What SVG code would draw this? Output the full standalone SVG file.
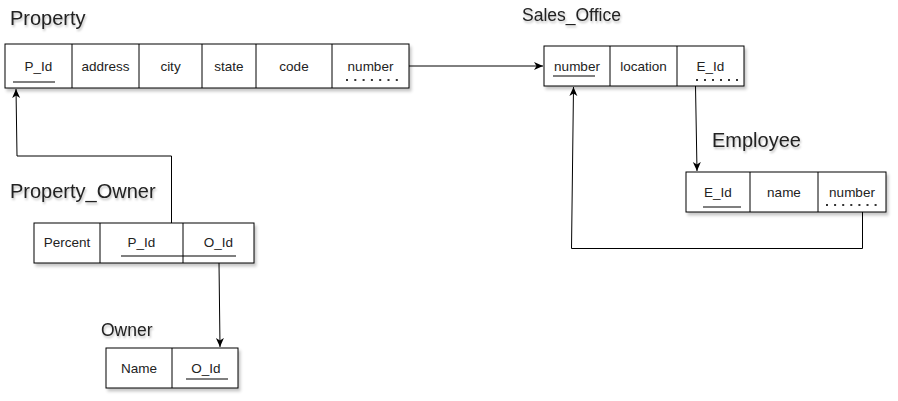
<svg xmlns="http://www.w3.org/2000/svg" width="898" height="401" viewBox="0 0 898 401">
<defs>
<filter id="sh" x="-10%" y="-20%" width="130%" height="160%">
<feDropShadow dx="2" dy="3" stdDeviation="1.5" flood-color="#000" flood-opacity="0.22"/>
</filter>
<filter id="tsh" x="-10%" y="-30%" width="130%" height="180%">
<feDropShadow dx="1" dy="2" stdDeviation="1" flood-color="#000" flood-opacity="0.25"/>
</filter>
<marker id="arr" markerWidth="10" markerHeight="10" refX="9" refY="5" orient="auto" markerUnits="userSpaceOnUse">
<path d="M0,1 L9,5 L0,9 L2.5,5 z" fill="#000"/>
</marker>
</defs>
<style>
.box{fill:#fff;stroke:#000;stroke-width:1}
.div{stroke:#000;stroke-width:1}
.cell{font-family:"Liberation Sans",Arial,sans-serif;font-size:13.5px;fill:#222;text-anchor:middle}
.title{font-family:"Liberation Sans",Arial,sans-serif;font-size:20px;fill:#222}
.ul{stroke:#000;stroke-width:1.2}
.dot{stroke:#333;stroke-width:2;stroke-dasharray:2 6.3}
.con{fill:none;stroke:#000;stroke-width:1}
</style>
<rect width="898" height="401" fill="#fff"/>

<g id="connectors">
<path class="con" d="M409,66 L543,66" marker-end="url(#arr)"/>
<path class="con" d="M695.5,86 L697,171" marker-end="url(#arr)"/>
<path class="con" d="M862.5,212 L862.5,248.5 L571.5,248.5 L573.5,87" marker-end="url(#arr)"/>
<path class="con" d="M171.5,223 L171.5,156 L17,156 L16,89" marker-end="url(#arr)"/>
<path class="con" d="M219,263 L220,347" marker-end="url(#arr)"/>
</g>

<g id="property">
<text class="title" x="10" y="25" filter="url(#tsh)">Property</text>
<rect class="box" x="5" y="44" width="404" height="44" filter="url(#sh)"/>
<path class="div" d="M72,44V88 M139,44V88 M202,44V88 M256,44V88 M332,44V88"/>
<text class="cell" x="38.5" y="71">P_Id</text>
<line class="ul" x1="13" y1="82" x2="55" y2="82"/>
<text class="cell" x="105.5" y="71">address</text>
<text class="cell" x="170.5" y="71">city</text>
<text class="cell" x="229" y="71">state</text>
<text class="cell" x="294" y="71">code</text>
<text class="cell" x="370.5" y="71">number</text>
<line class="dot" x1="346" y1="80" x2="398" y2="80"/>
</g>

<g id="sales_office">
<text class="title" x="522" y="21" style="font-size:17.5px" filter="url(#tsh)">Sales_Office</text>
<rect class="box" x="544" y="46" width="200" height="40" filter="url(#sh)"/>
<path class="div" d="M610,46V86 M677,46V86"/>
<text class="cell" x="577" y="71">number</text>
<line class="ul" x1="553" y1="76" x2="595" y2="76"/>
<text class="cell" x="643.5" y="71">location</text>
<text class="cell" x="710.5" y="71">E_Id</text>
<line class="dot" x1="696" y1="80" x2="738" y2="80" style="stroke-dasharray:2 6"/>
</g>

<g id="employee">
<text class="title" x="712" y="147" filter="url(#tsh)">Employee</text>
<rect class="box" x="686" y="172" width="200" height="40" filter="url(#sh)"/>
<path class="div" d="M750,172V212 M818,172V212"/>
<text class="cell" x="718" y="197">E_Id</text>
<line class="ul" x1="703" y1="207" x2="741" y2="207"/>
<text class="cell" x="784" y="197">name</text>
<text class="cell" x="852" y="197">number</text>
<line class="dot" x1="826" y1="205" x2="878" y2="205" style="stroke-dasharray:2 6.1"/>
</g>

<g id="property_owner">
<text class="title" x="10" y="198" filter="url(#tsh)">Property_Owner</text>
<rect class="box" x="34" y="223" width="220" height="40" filter="url(#sh)"/>
<path class="div" d="M100,223V263 M183,223V263"/>
<text class="cell" x="67" y="247">Percent</text>
<text class="cell" x="141.5" y="247">P_Id</text>
<text class="cell" x="218.5" y="247">O_Id</text>
<line class="ul" x1="121" y1="256" x2="236" y2="256"/>
</g>

<g id="owner">
<text class="title" x="101" y="336" style="font-size:17.5px" filter="url(#tsh)">Owner</text>
<rect class="box" x="106" y="348" width="132" height="40" filter="url(#sh)"/>
<path class="div" d="M172,348V388"/>
<text class="cell" x="139" y="373">Name</text>
<text class="cell" x="206" y="373">O_Id</text>
<line class="ul" x1="186" y1="379" x2="228" y2="379"/>
</g>
</svg>
